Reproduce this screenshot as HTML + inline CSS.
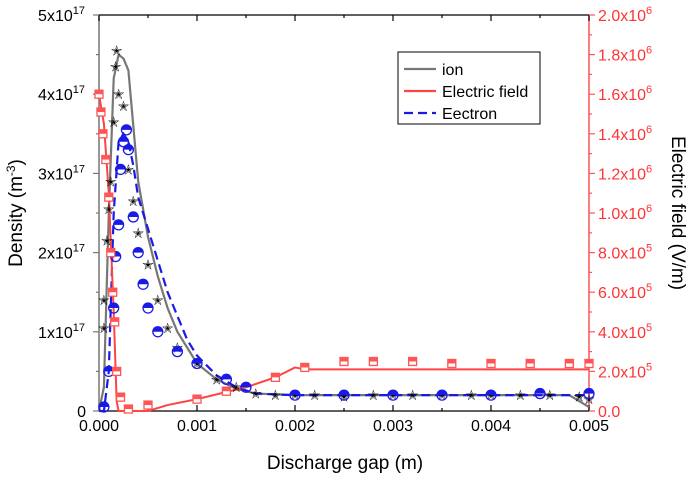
<!DOCTYPE html>
<html><head><meta charset="utf-8"><style>body{margin:0;background:#fff}svg{display:block;font-family:"Liberation Sans",sans-serif}</style></head>
<body>
<svg id="c" width="692" height="481"></svg>
<script>
const ionX=[0,0.00005,0.0001,0.00015,0.0002,0.00025,0.0003,0.00035,0.0004,0.0005,0.0006,0.0007,0.0008,0.0009,0.001,0.0012,0.0014,0.0016,0.002,0.003,0.004,0.0048,0.005];
const ionY=[0,0.3,2.5,4.2,4.5,4.45,4.3,3.6,2.9,2.2,1.7,1.3,1.0,0.8,0.6,0.4,0.28,0.22,0.2,0.2,0.2,0.2,0.05];
const eleY=[0,0,0.5,2.5,3.4,3.5,3.4,3.1,2.7,2.3,1.9,1.5,1.2,0.9,0.7,0.45,0.3,0.22,0.2,0.2,0.2,0.2,0.2];
const starX=[0.00005,0.00005,0.00008,0.0001,0.00012,0.00015,0.00017,0.00018,0.0002,0.00025,0.0003,0.00035,0.0004,0.0005,0.0006,0.0007,0.0008,0.001,0.0012,0.0014,0.0016,0.0018,0.002,0.0022,0.0025,0.0028,0.003,0.0032,0.0035,0.0038,0.004,0.0043,0.0046,0.0049,0.005];
const starY=[1.05,1.4,2.15,2.55,2.9,3.65,4.35,4.55,4.0,3.85,3.05,2.65,2.25,1.85,1.4,1.05,0.8,0.6,0.4,0.3,0.22,0.2,0.2,0.2,0.18,0.2,0.2,0.2,0.2,0.2,0.2,0.2,0.2,0.18,0.15];
const circX=[0.00005,0.0001,0.00015,0.00017,0.0002,0.00022,0.00025,0.00028,0.0003,0.00035,0.0004,0.00045,0.0005,0.0006,0.0008,0.001,0.0013,0.0015,0.002,0.0025,0.003,0.0035,0.004,0.0045,0.005];
const circY=[0.05,0.5,1.3,1.95,2.35,3.05,3.4,3.55,3.3,2.45,2.0,1.6,1.3,1.0,0.75,0.6,0.4,0.3,0.2,0.2,0.2,0.2,0.2,0.22,0.22];
const efX=[0,0.00005,0.0001,0.00015,0.00018,0.0002,0.0005,0.0007,0.001,0.0015,0.0018,0.002,0.0021,0.005];
const efY=[1.6,1.45,1.1,0.5,0.05,0,0,0.03,0.06,0.12,0.17,0.22,0.21,0.21];
const sqX=[0,0.00002,0.00004,0.00007,0.0001,0.00012,0.00014,0.00016,0.00018,0.00022,0.0003,0.0005,0.001,0.0013,0.0018,0.0021,0.0025,0.0028,0.0032,0.0036,0.004,0.0044,0.0048,0.005];
const sqY=[1.6,1.51,1.4,1.27,1.08,0.8,0.6,0.45,0.2,0.07,0.01,0.03,0.06,0.1,0.17,0.22,0.25,0.25,0.25,0.24,0.24,0.24,0.24,0.24];
const xTicks=["0.000","0.001","0.002","0.003","0.004","0.005"];
const lTicks=["0","1x10","2x10","3x10","4x10","5x10"];
const rTicks=["0.0","2.0x10","4.0x10","6.0x10","8.0x10","1.0x10","1.2x10","1.4x10","1.6x10","1.8x10","2.0x10"];
const rExp=["","5","5","5","5","6","6","6","6","6","6"];

const X0=99,X1=589,Y0=411,Y1=15;
const sx=v=>X0+v/0.005*(X1-X0), sl=v=>Y0-v/5*(Y0-Y1), sr=v=>Y0-v/2*(Y0-Y1);
const svg=document.getElementById('c'),NS='http://www.w3.org/2000/svg';
function mk(t,a,p){const e=document.createElementNS(NS,t);for(const k in a)e.setAttribute(k,a[k]);(p||svg).appendChild(e);return e;}
function txt(x,y,s,a,p){const e=mk('text',Object.assign({x:x,y:y},a),p);e.innerHTML=s;return e;}
let g=mk('g',{});
mk('line',{x1:X0,y1:Y1,x2:X1,y2:Y1,stroke:'#000','stroke-width':1.3},g);
mk('line',{x1:X0,y1:Y0,x2:X1,y2:Y0,stroke:'#000','stroke-width':1.3},g);
mk('line',{x1:X0,y1:Y0,x2:X0,y2:Y1,stroke:'#777','stroke-width':1.5},g);
mk('line',{x1:X1,y1:Y0,x2:X1,y2:Y1,stroke:'#f55','stroke-width':1.5},g);
let gx=mk('g',{});
for(let i=0;i<=10;i++){const x=sx(i*0.0005),L=i%2?3:6;
 mk('line',{x1:x,y1:Y0,x2:x,y2:Y0-L,stroke:'#000','stroke-width':1.2},gx);
 mk('line',{x1:x,y1:Y1,x2:x,y2:Y1+L,stroke:'#000','stroke-width':1.2},gx);}
xTicks.forEach((t,i)=>{const e=txt(sx(i*0.001),431,t,{'font-size':16,'text-anchor':'middle'},gx);});
let xt=txt(345,469,'Discharge gap (m)',{'font-size':19,'text-anchor':'middle'});

let gl=mk('g',{});
for(let i=0;i<=10;i++){const y=sl(i*0.5);mk('line',{x1:X0,y1:y,x2:X0-(i%2?3:6),y2:y,stroke:'#777','stroke-width':1.2},gl);}
lTicks.forEach((t,i)=>{const y=sl(i)+6;let s=i?t+'<tspan dy="-7" font-size="11">17</tspan>':t;const e=txt(i?85:86,y,s,{'font-size':16,'text-anchor':'end'},gl);});
let yt=txt(0,0,'Density (m<tspan dy="-7" font-size="12">-3</tspan><tspan dy="7">)</tspan>',{'font-size':19,'text-anchor':'middle',transform:'translate(22,213) rotate(-90)'});

let gr=mk('g',{});
for(let i=0;i<=20;i++){const y=sr(i*0.1);mk('line',{x1:X1,y1:y,x2:X1+(i%2?3:6),y2:y,stroke:'#f55','stroke-width':1.2},gr);}
rTicks.forEach((t,i)=>{const y=sr(i*0.2)+6;let s=rExp[i]?t+'<tspan dy="-7" font-size="11">'+rExp[i]+'</tspan>':t;const e=txt(598,y,s,{'font-size':16,fill:'#f33'},gr);});
let rt=txt(0,0,'Electric field (V/m)',{'font-size':19,'text-anchor':'middle',fill:'#000',transform:'translate(672,213) rotate(90)'});

const pts=(xs,ys,f)=>xs.map((x,i)=>sx(x)+','+f(ys[i])).join(' ');
let ion=mk('polyline',{points:pts(ionX,ionY,sl),fill:'none',stroke:'#777','stroke-width':2.2,'stroke-linejoin':'round'});

let ele=mk('polyline',{points:pts(ionX,eleY,sl),fill:'none',stroke:'#1a1ae6','stroke-width':2.2,'stroke-dasharray':'9,5'});

let ef=mk('polyline',{points:pts(efX,efY,sr),fill:'none',stroke:'#f44','stroke-width':2});

starX.forEach((x,i)=>{const e=txt(sx(x),sl(starY[i])+5,'✭',{'font-size':14,'text-anchor':'middle',fill:'#000'});});
circX.forEach((x,i)=>{const cx=sx(x),cy=sl(circY[i]);const gg=mk('g',{});
 mk('path',{d:`M${cx-5},${cy}A5,5 0 0 1 ${cx+5},${cy}Z`,fill:'#1a1ae6'},gg);
 mk('circle',{cx:cx,cy:cy,r:5,fill:'none',stroke:'#1a1ae6','stroke-width':1.3},gg);});
sqX.forEach((x,i)=>{const cx=sx(x),cy=sr(sqY[i]);const gg=mk('g',{});
 mk('rect',{x:cx-4,y:cy-4,width:8,height:8,fill:'#fff',stroke:'#f55','stroke-width':1.3},gg);
 mk('rect',{x:cx-4,y:cy-4,width:8,height:4,fill:'#f55'},gg);});
let lg=mk('g',{});
mk('rect',{x:398,y:52,width:142,height:72,fill:'#fff',stroke:'#000','stroke-width':1},lg);
[['ion','#777',''],['Electric field','#f44',''],['Eectron','#1a1ae6','9,5']].forEach((d,i)=>{const y=69+i*22;
 mk('line',{x1:404,y1:y,x2:436,y2:y,stroke:d[1],'stroke-width':2.2,'stroke-dasharray':d[2]},lg);
 const t=txt(442,y+6,d[0],{'font-size':16},lg);});
</script>
</body></html>
